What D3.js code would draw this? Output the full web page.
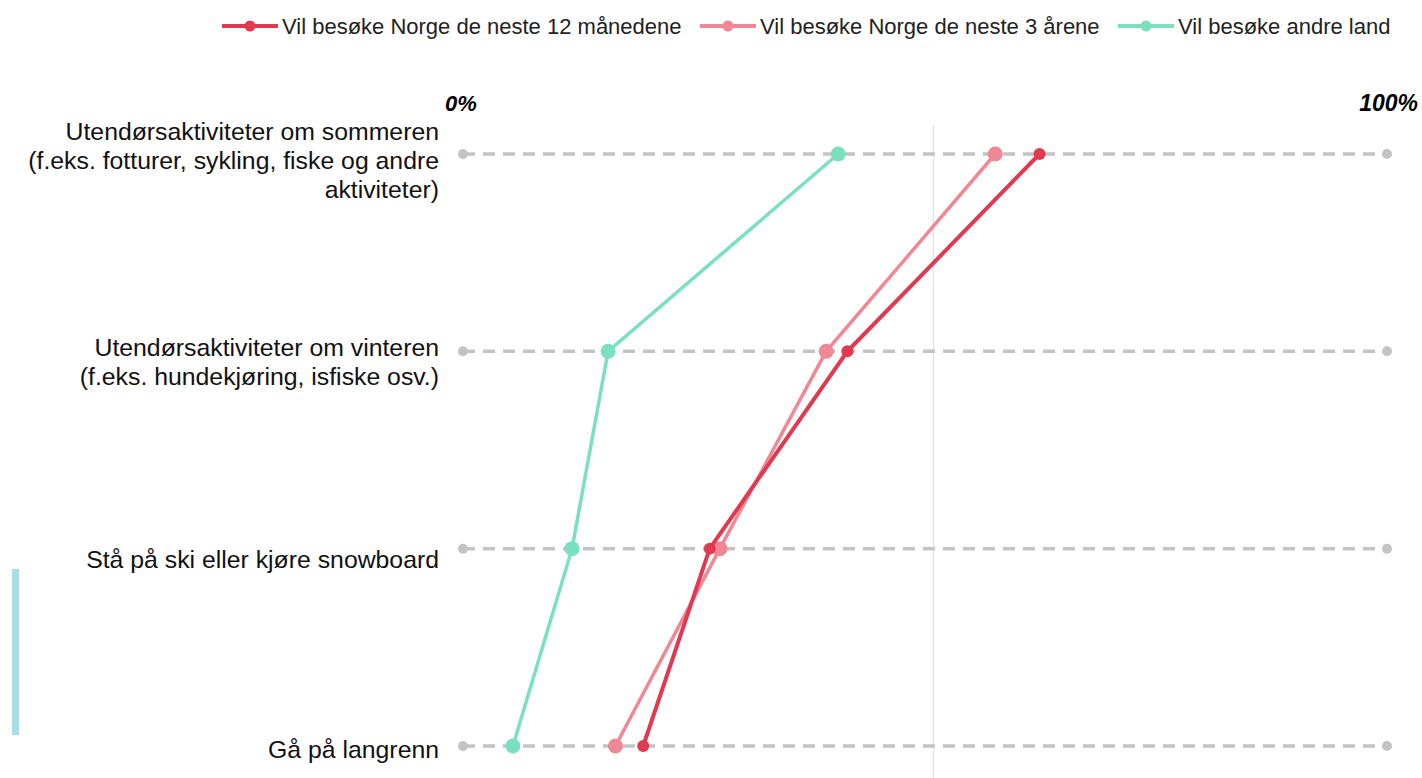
<!DOCTYPE html>
<html>
<head>
<meta charset="utf-8">
<script src="https://cdn.jsdelivr.net/npm/d3@7"></script>
<style>
  body { margin: 0; background: #fff; }
  svg { display: block; font-family: "Liberation Sans", Arial, sans-serif; }
</style>
</head>
<body>
<div id="vis"></div>
<script>
// frame size
const FRAME_WIDTH = 1422;
const FRAME_HEIGHT = 778;

// categories (rows), one label line per entry
const categories = [
  ["Utendørsaktiviteter om sommeren", "(f.eks. fotturer, sykling, fiske og andre", "aktiviteter)"],
  ["Utendørsaktiviteter om vinteren", "(f.eks. hundekjøring, isfiske osv.)"],
  ["Stå på ski eller kjøre snowboard"],
  ["Gå på langrenn"]
];

// series names
const seriesNames = ["Vil besøke Norge de neste 12 månedene", "Vil besøke Norge de neste 3 årene", "Vil besøke andre land"];

// values in percent, one per category
const norge12 = [62.4, 41.6, 26.7, 19.5];
const norge3 = [57.6, 39.3, 27.8, 16.5];
const andreLand = [40.6, 15.7, 11.8, 5.4];

// axis end labels and reference line
const axisLabels = ["0%", "100%"];
const refValue = 50.9;

const seriesValues = [norge12, norge3, andreLand];
const colors = ["#e03a50", "#ef8795", "#7be0be"];
const dotR = [6, 7.5, 7.5];
const lineW = [4, 3.5, 3.5];

const X_SCALE = d3.scaleLinear().domain([0, 100]).range([463, 1387]);
const Y_SCALE = d3.scalePoint().domain(d3.range(categories.length)).range([154, 746]);

const svg = d3.select("#vis").append("svg")
  .attr("width", FRAME_WIDTH)
  .attr("height", FRAME_HEIGHT);

// left accent bar
svg.append("rect")
  .attr("x", 12).attr("y", 569).attr("width", 7).attr("height", 166)
  .attr("fill", "#a9dde8");

// reference line
svg.append("line")
  .attr("x1", X_SCALE(refValue)).attr("x2", X_SCALE(refValue))
  .attr("y1", 125).attr("y2", FRAME_HEIGHT)
  .attr("stroke", "#dcdcdc").attr("stroke-width", 1);

// label nudges per row, so they sit like in the original
const labelShift = [0, 4, 4, -3];

// dashed row lines with end dots
const rows = svg.append("g");
categories.forEach((c, i) => {
  const y = Y_SCALE(i);
  rows.append("line")
    .attr("x1", X_SCALE(0)).attr("x2", X_SCALE(100))
    .attr("y1", y).attr("y2", y)
    .attr("stroke", "#c3c3c3").attr("stroke-width", 3.5)
    .attr("stroke-dasharray", "12,8");
  [0, 100].forEach(v => {
    rows.append("circle")
      .attr("cx", X_SCALE(v)).attr("cy", y).attr("r", 5)
      .attr("fill", "#c3c3c3");
  });

  // category label, right aligned
  const lh = 29;
  const top = y + 7 + labelShift[i] - (c.length - 1) * lh / 2;
  const t = svg.append("text")
    .attr("text-anchor", "end")
    .attr("font-size", 24.8)
    .attr("fill", "#111");
  c.forEach((line, k) => {
    t.append("tspan")
      .attr("x", 439)
      .attr("y", top + k * lh + 8)
      .text(line);
  });
});

// axis end labels
svg.append("text")
  .attr("x", 445).attr("y", 111)
  .attr("font-size", 22).attr("font-weight", "bold").attr("font-style", "italic")
  .text(axisLabels[0]);
svg.append("text")
  .attr("x", 1418).attr("y", 111)
  .attr("text-anchor", "end")
  .attr("font-size", 23).attr("font-weight", "bold").attr("font-style", "italic")
  .text(axisLabels[1]);

// series lines and dots (green, pink, red so red ends on top)
const order = [2, 1, 0];
const line = d3.line()
  .x(d => X_SCALE(d))
  .y((d, i) => Y_SCALE(i));

order.forEach(s => {
  const g = svg.append("g");
  g.append("path")
    .datum(seriesValues[s])
    .attr("d", line)
    .attr("fill", "none")
    .attr("stroke", colors[s])
    .attr("stroke-width", lineW[s]);
  g.selectAll("circle")
    .data(seriesValues[s])
    .enter()
    .append("circle")
      .attr("cx", d => X_SCALE(d))
      .attr("cy", (d, i) => Y_SCALE(i))
      .attr("r", dotR[s])
      .attr("fill", colors[s]);
});

// legend
const legendX = [222, 700, 1118];
const legend = svg.append("g");
seriesNames.forEach((name, s) => {
  const x = legendX[s];
  legend.append("line")
    .attr("x1", x).attr("x2", x + 56)
    .attr("y1", 26).attr("y2", 26)
    .attr("stroke", colors[s]).attr("stroke-width", 4);
  legend.append("circle")
    .attr("cx", x + 28).attr("cy", 26).attr("r", 5.5)
    .attr("fill", colors[s]);
  legend.append("text")
    .attr("x", x + 60).attr("y", 34)
    .attr("font-size", 22)
    .attr("fill", "#222")
    .text(name);
});
</script>
</body>
</html>
